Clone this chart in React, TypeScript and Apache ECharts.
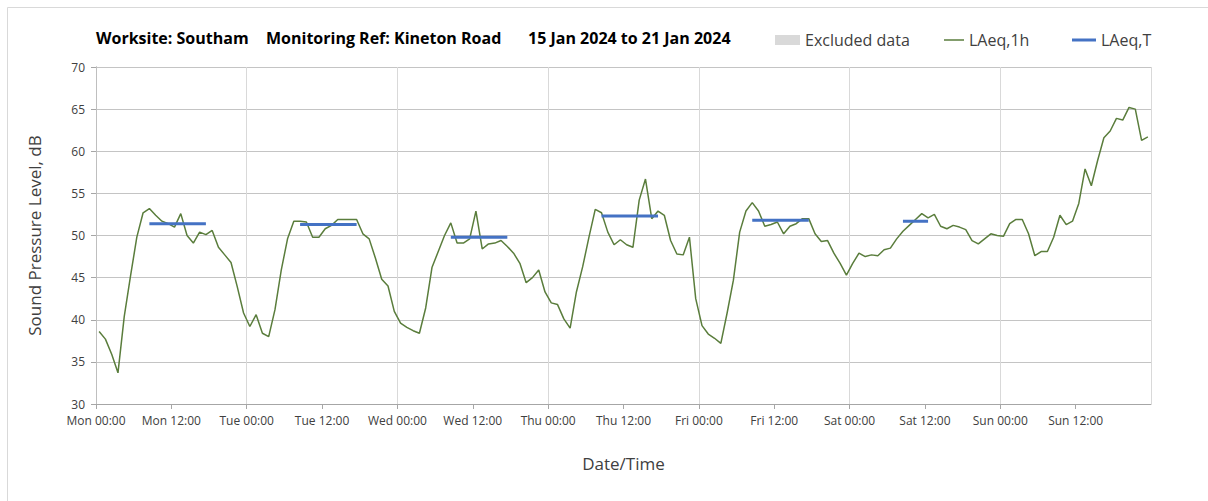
import React, { useEffect, useRef } from "react";
import * as echarts from "echarts";

// ---- Data ----
const xTickLabels = [
  "Mon 00:00", "Mon 12:00", "Tue 00:00", "Tue 12:00", "Wed 00:00", "Wed 12:00",
  "Thu 00:00", "Thu 12:00", "Fri 00:00", "Fri 12:00", "Sat 00:00", "Sat 12:00",
  "Sun 00:00", "Sun 12:00",
];

// Hourly LAeq,1h values (dB), Mon 00:00 .. Sun 23:00
const laeqMon = [38.6, 37.7, 35.9, 33.7, 40.4, 45.2, 49.8, 52.7, 53.2, 52.4, 51.7, 51.4, 51.0, 52.6, 50.0, 49.1, 50.4, 50.1, 50.6, 48.6, 47.7, 46.8, 43.9, 40.8];
const laeqTue = [39.2, 40.6, 38.4, 38.0, 41.2, 45.9, 49.6, 51.7, 51.7, 51.6, 49.8, 49.8, 50.8, 51.2, 51.9, 51.9, 51.9, 51.9, 50.2, 49.6, 47.3, 44.8, 44.0, 41.0];
const laeqWed = [39.6, 39.1, 38.7, 38.4, 41.4, 46.2, 48.1, 50.0, 51.5, 49.1, 49.1, 49.6, 52.9, 48.4, 49.0, 49.1, 49.4, 48.7, 47.9, 46.7, 44.4, 45.0, 45.9, 43.3];
const laeqThu = [42.0, 41.8, 40.1, 39.0, 43.3, 46.3, 49.8, 53.1, 52.7, 50.4, 48.9, 49.5, 48.9, 48.6, 54.2, 56.7, 52.0, 52.9, 52.4, 49.4, 47.8, 47.7, 49.8, 42.5];
const laeqFri = [39.3, 38.3, 37.8, 37.2, 40.8, 44.7, 50.4, 52.9, 53.9, 52.9, 51.1, 51.3, 51.6, 50.2, 51.1, 51.4, 52.0, 52.0, 50.2, 49.3, 49.4, 47.9, 46.7, 45.3];
const laeqSat = [46.7, 47.9, 47.5, 47.7, 47.6, 48.3, 48.5, 49.6, 50.5, 51.2, 51.9, 52.6, 52.1, 52.5, 51.1, 50.8, 51.2, 51.0, 50.7, 49.4, 49.0, 49.6, 50.2, 50.0];
const laeqSun = [49.9, 51.4, 51.9, 51.9, 50.2, 47.6, 48.1, 48.1, 49.8, 52.4, 51.3, 51.7, 53.8, 57.9, 55.9, 58.9, 61.6, 62.4, 63.9, 63.7, 65.2, 65.0, 61.3, 61.7];

// LAeq,T over working periods (hour index of first and last hour in the period)
const periodStartHour = [8, 32, 56, 80, 104, 128];
const periodEndHour = [17, 41, 65, 89, 113, 132];
const laeqT = [51.4, 51.3, 49.8, 52.3, 51.8, 51.7];

const HOUR_CENTRE = 0.5; // hourly values plotted at the centre of their hour

export default function App() {
  const ref = useRef<HTMLDivElement>(null);

  useEffect(() => {
    if (!ref.current) return;
    const chart = echarts.init(ref.current, null, { renderer: "svg" });

    const laeq1h = [...laeqMon, ...laeqTue, ...laeqWed, ...laeqThu, ...laeqFri, ...laeqSat, ...laeqSun];
    const laeq1hData = laeq1h.map((v, i) => [i + HOUR_CENTRE, v]);
    const laeqTData = laeq1h.map((_, i) => {
      const k = periodStartHour.findIndex((s, j) => i >= s && i <= periodEndHour[j]);
      return [i + HOUR_CENTRE, k >= 0 ? laeqT[k] : "-"];
    });

    const font = "'Open Sans', sans-serif";
    const textColor = "#404040";
    const green = "#5a7d3c";
    const blue = "#4472c4";
    const legendText = { fontFamily: font, fontSize: 16, color: textColor };

    chart.setOption({
      animation: false,
      textStyle: { fontFamily: font },
      title: [
        { text: "Worksite: Southam", left: 96, top: 30, padding: 0 },
        { text: "Monitoring Ref: Kineton Road", left: 266, top: 30, padding: 0 },
        { text: "15 Jan 2024 to 21 Jan 2024", left: 528, top: 30, padding: 0 },
      ].map((t) => ({
        ...t,
        textStyle: { fontFamily: font, fontSize: 16, fontWeight: "bold", color: "#000" },
      })),
      legend: [
        {
          data: [{ name: "Excluded data", icon: "rect" }],
          left: 775, top: 32, padding: 0, itemWidth: 25, itemHeight: 10,
          textStyle: legendText,
        },
        {
          data: [{ name: "LAeq,1h", icon: "rect" }],
          left: 944, top: 32, padding: 0, itemWidth: 20, itemHeight: 1.5,
          itemStyle: { color: green },
          textStyle: legendText,
        },
        {
          data: [{ name: "LAeq,T", icon: "rect" }],
          left: 1072, top: 32, padding: 0, itemWidth: 24, itemHeight: 3,
          itemStyle: { color: blue },
          textStyle: legendText,
        },
      ],
      grid: { left: 96, right: 57, top: 67, bottom: 97, containLabel: false },
      xAxis: [
        {
          type: "value", min: 0, max: 168, interval: 12,
          axisLine: { show: true, lineStyle: { color: "#a6a6a6", width: 1 } },
          axisTick: { show: true, length: 5, lineStyle: { color: "#a6a6a6" } },
          axisLabel: {
            color: textColor, fontSize: 12, margin: 10, showMaxLabel: false,
            formatter: (v: number) => xTickLabels[Math.round(v / 12)] ?? "",
          },
          splitLine: { show: false },
          name: "Date/Time", nameLocation: "middle", nameGap: 51,
          nameTextStyle: { color: textColor, fontSize: 17, fontFamily: font },
        },
        {
          type: "value", min: 0, max: 168, interval: 24, position: "top",
          axisLine: { show: false }, axisTick: { show: false }, axisLabel: { show: false },
          splitLine: { show: true, lineStyle: { color: "#d9d9d9", width: 1 } },
        },
      ],
      yAxis: [
        {
          type: "value", min: 30, max: 70, interval: 5,
          axisLine: { show: true, lineStyle: { color: "#a6a6a6", width: 1 } },
          axisTick: { show: true, length: 5, lineStyle: { color: "#a6a6a6" } },
          axisLabel: { color: textColor, fontSize: 12, margin: 11 },
          splitLine: { show: true, lineStyle: { color: "#c4c4c4", width: 1 } },
          name: "Sound Pressure Level, dB", nameLocation: "middle", nameGap: 53, nameRotate: 90,
          nameTextStyle: { color: textColor, fontSize: 17, fontFamily: font },
        },
        {
          type: "value", min: 30, max: 70, interval: 5, position: "right",
          axisLine: { show: true, lineStyle: { color: "#bfbfbf", width: 1 } },
          axisTick: { show: false }, axisLabel: { show: false }, splitLine: { show: false },
        },
      ],
      series: [
        {
          name: "Excluded data", type: "line", data: [], symbol: "none",
          color: "#d9d9d9", itemStyle: { color: "#d9d9d9" },
        },
        {
          name: "LAeq,1h", type: "line", data: laeq1hData, symbol: "none",
          color: green, lineStyle: { color: green, width: 1.5 },
          z: 3,
        },
        {
          name: "LAeq,T", type: "line", data: laeqTData, symbol: "none",
          connectNulls: false,
          color: blue, lineStyle: { color: blue, width: 3 },
          z: 4,
        },
      ],
      graphic: [
        {
          type: "rect", left: 5, top: 5, silent: true,
          shape: { x: 0, y: 0, width: 1400, height: 700 },
          style: { fill: "none", stroke: "#d9d9d9", lineWidth: 1 },
          z: -1,
        },
      ],
    });

    return () => chart.dispose();
  }, []);

  return (
    <div
      ref={ref}
      style={{ position: "fixed", left: 0, top: 0, width: 1208, height: 501, background: "#fff" }}
    />
  );
}
